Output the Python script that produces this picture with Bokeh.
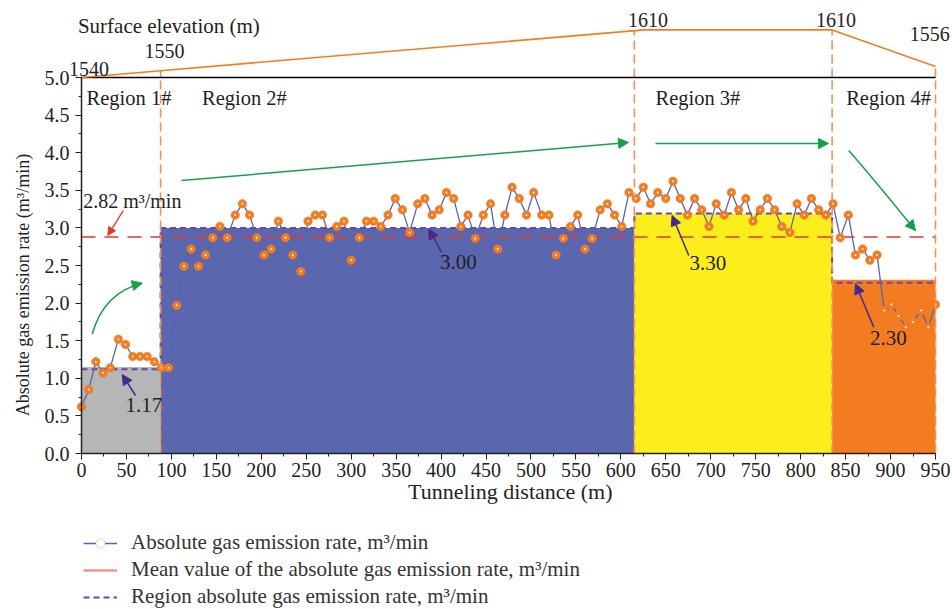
import numpy as np
from bokeh.plotting import figure
from bokeh.models import (Range1d, FixedTicker, NumeralTickFormatter, Label, Arrow,
                          NormalHead, Legend, LegendItem)
from bokeh.embed import file_html
from bokeh.resources import INLINE

# ---------------- data ----------------
distance = [0, 8, 16, 24, 32, 41, 49, 57, 65, 73,
            81, 89, 97, 106, 114, 122, 130, 138, 146, 154,
            162, 171, 179, 187, 195, 203, 211, 219, 227, 235,
            244, 252, 260, 268, 276, 284, 292, 300, 309, 317,
            325, 333, 341, 349, 357, 365, 374, 382, 390, 398,
            406, 414, 422, 430, 438, 447, 455, 463, 471, 479,
            487, 495, 503, 512, 520, 528, 536, 544, 552, 560,
            568, 577, 585, 593, 601, 609, 617, 625, 633, 641,
            650, 658, 666, 674, 682, 690, 698, 706, 715, 723,
            731, 739, 747, 755, 763, 771, 779, 788, 796, 804,
            812, 820, 828, 836, 844, 853, 861, 869, 877, 885,
            893, 901, 909, 917, 925, 934, 942, 950]
rate = [0.62, 0.85, 1.22, 1.07, 1.14, 1.52, 1.45, 1.29, 1.29, 1.29,
        1.22, 1.14, 1.14, 1.97, 2.49, 2.72, 2.49, 2.64, 2.87, 3.02,
        2.87, 3.17, 3.32, 3.17, 2.87, 2.64, 2.72, 3.09, 2.87, 2.64,
        2.42, 3.09, 3.17, 3.17, 2.87, 3.02, 3.09, 2.57, 2.87, 3.09,
        3.09, 3.02, 3.17, 3.39, 3.24, 2.94, 3.32, 3.39, 3.17, 3.24,
        3.47, 3.39, 3.02, 3.17, 2.86, 3.17, 3.32, 2.72, 3.17, 3.54,
        3.39, 3.17, 3.47, 3.17, 3.17, 2.64, 2.86, 3.02, 3.17, 2.72,
        2.86, 3.24, 3.32, 3.17, 3.02, 3.47, 3.39, 3.54, 3.32, 3.47,
        3.39, 3.62, 3.39, 3.17, 3.39, 3.24, 3.02, 3.32, 3.17, 3.47,
        3.24, 3.39, 3.09, 3.24, 3.39, 3.24, 3.02, 2.94, 3.32, 3.17,
        3.39, 3.24, 3.17, 3.32, 2.87, 3.17, 2.64, 2.72, 2.57, 2.64,
        1.90, 1.98, 1.83, 1.68, 1.75, 1.90, 1.68, 1.98]

region_bounds = [0, 88, 615, 835, 950]
region_fill_top = [1.15, 3.00, 3.19, 2.31]
region_level = [1.12, 3.00, 3.19, 2.27]
region_value_labels = ["1.17", "3.00", "3.30", "2.30"]
region_names = ["Region 1#", "Region 2#", "Region 3#", "Region 4#"]
region_colors = ["#b4b7b6", "#5a66ae", "#fcee1c", "#f47c20"]

mean_rate = 2.88
mean_label = "2.82 m\u00b3/min"

elev_dist = [0, 88, 626, 835, 950]
elev_m = [1540, 1550, 1610, 1610, 1556]

x_ticks = list(range(0, 951, 50))
x_minor = list(range(0, 951, 25))
y_ticks = [0.0, 0.5, 1.0, 1.5, 2.0, 2.5, 3.0, 3.5, 4.0, 4.5, 5.0]
y_minor = [0.25, 0.75, 1.25, 1.75, 2.25, 2.75, 3.25, 3.75, 4.25, 4.75]

# ---------------- figure (frame covers whole canvas) ----------------
FONT = "Liberation Serif"
W, H = 952, 609
X0_PX, Y0_PX = 81, 453          # pixel of data origin
PX_PER_X = 854 / 950
PX_PER_Y = 75.2
x_start = -X0_PX / PX_PER_X
x_end = (W - X0_PX) / PX_PER_X
y_start = -(H - Y0_PX) / PX_PER_Y
y_end = Y0_PX / PX_PER_Y
ELEV_PX_PER_M = 0.68
elev_start = elev_m[0] - (y_ticks[-1] - y_start) * PX_PER_Y / ELEV_PX_PER_M
elev_end = elev_m[0] + (y_end - y_ticks[-1]) * PX_PER_Y / ELEV_PX_PER_M

p = figure(width=W, height=H, output_backend="svg", toolbar_location=None,
           x_range=Range1d(x_start, x_end), y_range=Range1d(y_start, y_end),
           min_border_left=0, min_border_right=0, min_border_top=0,
           min_border_bottom=0)
p.extra_y_ranges = {"elev": Range1d(elev_start, elev_end)}
p.grid.visible = False
p.outline_line_color = None
p.background_fill_color = "white"
p.border_fill_color = "white"

# region fills
p.quad(left=region_bounds[:-1], right=region_bounds[1:], bottom=0,
       top=region_fill_top, fill_color=region_colors, line_color=None)

# mean line
p.line(x=[region_bounds[0], region_bounds[-1]], y=[mean_rate, mean_rate],
       line_color="#e8352b", line_width=1.5, line_dash="14 9")

# region level step line
step_x, step_y = [], []
for i in range(4):
    step_x += [region_bounds[i], region_bounds[i + 1]]
    step_y += [region_level[i], region_level[i]]
step_r = p.line(step_x, step_y, line_color="#6a46a6", line_width=2,
                line_dash="6 4")

# data series
line_r = p.line(distance, rate, line_color="#5464b4", line_width=1.3)
mark_r = p.scatter(distance, rate, size=8.5, fill_color="#f47c20",
                   line_color="#ec7420", line_width=0.5)
dot_r = p.scatter(distance, rate, size=2.0, fill_color="white",
                  line_color=None)

# region boundaries (orange dashed)
bnd = region_bounds[1:]
bnd_elev = list(np.interp(bnd, elev_dist, elev_m))
p.segment(x0=bnd, x1=bnd, y0=0, y1=y_ticks[-1], line_color="#f4924e",
          line_width=1.6, line_dash="9 5")
p.segment(x0=bnd, x1=bnd, y0=elev_m[0], y1=bnd_elev, y_range_name="elev",
          line_color="#f4924e", line_width=1.6, line_dash="9 5")

# top border of plot box
p.segment(x0=region_bounds[0], x1=region_bounds[-1], y0=y_ticks[-1],
          y1=y_ticks[-1], line_color="black", line_width=1.5)

# surface elevation profile
p.line(elev_dist, elev_m, y_range_name="elev", line_color="#f47c20",
       line_width=1.6)

# legend stand-in for the mean (solid line, no visible data)
mean_leg = p.line(x=[np.nan, np.nan], y=[np.nan, np.nan],
                  line_color="#f4806e", line_width=2)

# axes placed at the data origin
xa = p.xaxis[0]
xa.fixed_location = 0
xa.ticker = FixedTicker(ticks=x_ticks, minor_ticks=x_minor)
xa.bounds = (0, 950)
ya = p.yaxis[0]
ya.fixed_location = 0
ya.ticker = FixedTicker(ticks=y_ticks, minor_ticks=y_minor)
ya.formatter = NumeralTickFormatter(format="0.0")
ya.bounds = (0, 5)
for ax in (xa, ya):
    ax.axis_line_width = 1.5
    ax.axis_line_color = "#222222"
    ax.major_tick_line_color = "#222222"
    ax.minor_tick_line_color = "#222222"
    ax.major_tick_out = 6
    ax.major_tick_in = 0
    ax.minor_tick_out = 3
    ax.minor_tick_in = 0
    ax.major_label_text_font = FONT
    ax.major_label_text_font_size = "20px"
    ax.major_label_text_color = "#222222"
xa.major_label_standoff = 3
ya.major_label_standoff = 6


def lab(x, y, text, align="left", size="20px", color="#231f20", angle=0,
        y_range_name="default"):
    p.add_layout(Label(x=x, y=y, text=text, text_align=align,
                       text_baseline="middle", text_font=FONT,
                       text_font_size=size, text_color=color, angle=angle,
                       y_range_name=y_range_name))


# axis titles
lab(-65.6, 2.24, "Absolute gas emission rate (m\u00b3/min)", align="center",
    angle=np.pi / 2, size="18px")
lab(477, -0.505, "Tunneling distance (m)", align="center", size="22px")

# elevation texts
lab(-4, 5.68, "Surface elevation (m)", size="21px")
elev_label_pos = [(-14, 5.112), (70, 5.35), (608, 5.76), (817, 5.76),
                  (921.4, 5.585)]
for (lx, ly), e in zip(elev_label_pos, elev_m):
    lab(lx, ly, str(e))

# region names
for nx, name in zip([5.6, 134, 638.5, 850.6], region_names):
    lab(nx, 4.73, name, size="20.5px")

# region value labels + arrows
val_pos = [(69.3, 0.649), (419.3, 2.549), (696.9, 2.527), (897.5, 1.536)]
val_arrow = [((60.1, 0.771), (45.3, 1.05)),
             ((400.4, 2.677), (386.3, 2.987)),
             ((675.5, 2.633), (657.0, 3.165)),
             ((881.3, 1.68), (861.0, 2.257))]
PURPLE = "#412b8f"
for (vx, vy), t, (s, e) in zip(val_pos, region_value_labels, val_arrow):
    lab(vx, vy, t, align="center", size="21px")
    p.add_layout(Arrow(x_start=s[0], y_start=s[1], x_end=e[0], y_end=e[1],
                       line_color=PURPLE, line_width=1.5,
                       end=NormalHead(size=10, fill_color=PURPLE,
                                      line_color=PURPLE)))

# mean label + red arrow
lab(1.9, 3.354, mean_label, size="20px")
RED = "#e8342c"
p.add_layout(Arrow(x_start=46.4, y_start=3.23, x_end=29.3, y_end=2.90,
                   line_color=RED, line_width=1.3,
                   end=NormalHead(size=8, fill_color=RED, line_color=RED)))

# green trend arrows
GREEN = "#17a04a"
curves = [((11.9, 1.59), (24.9, 2.14), (67.5, 2.265)),
          ((853.5, 4.03), (879.6, 3.675), (927.7, 2.965))]
for P0, C, P2 in curves:
    p.quadratic(x0=[P0[0]], y0=[P0[1]], x1=[P2[0]], y1=[P2[1]],
                cx=[C[0]], cy=[C[1]], line_color=GREEN, line_width=1.5)
    sx = P2[0] - 0.08 * (P2[0] - C[0])
    sy = P2[1] - 0.08 * (P2[1] - C[1])
    p.add_layout(Arrow(x_start=sx, y_start=sy, x_end=P2[0], y_end=P2[1],
                       line_color=GREEN, line_width=1.5,
                       end=NormalHead(size=10, fill_color=GREEN,
                                      line_color=GREEN)))
for (s, e) in [((111.2, 3.63), (608.5, 4.136)), ((638.5, 4.122), (831, 4.122))]:
    p.add_layout(Arrow(x_start=s[0], y_start=s[1], x_end=e[0], y_end=e[1],
                       line_color=GREEN, line_width=1.5,
                       end=NormalHead(size=10, fill_color=GREEN,
                                      line_color=GREEN)))

# legend (inside the full-canvas frame, below the axis)
legend = Legend(items=[
    LegendItem(label="Absolute gas emission rate, m\u00b3/min",
               renderers=[line_r, mark_r, dot_r]),
    LegendItem(label="Mean value of the absolute gas emission rate, m\u00b3/min",
               renderers=[mean_leg]),
    LegendItem(label="Region absolute gas emission rate, m\u00b3/min",
               renderers=[step_r]),
], location=(83, 0))
legend.glyph_width = 34
legend.glyph_height = 22
legend.label_height = 22
legend.label_standoff = 14
legend.spacing = 2
legend.padding = 0
legend.margin = 0
legend.border_line_alpha = 0
legend.background_fill_alpha = 0
legend.label_text_font = FONT
legend.label_text_font_size = "21px"
legend.label_text_color = "#333333"
p.add_layout(legend)

open("out.html", "w").write(file_html(p, INLINE))
